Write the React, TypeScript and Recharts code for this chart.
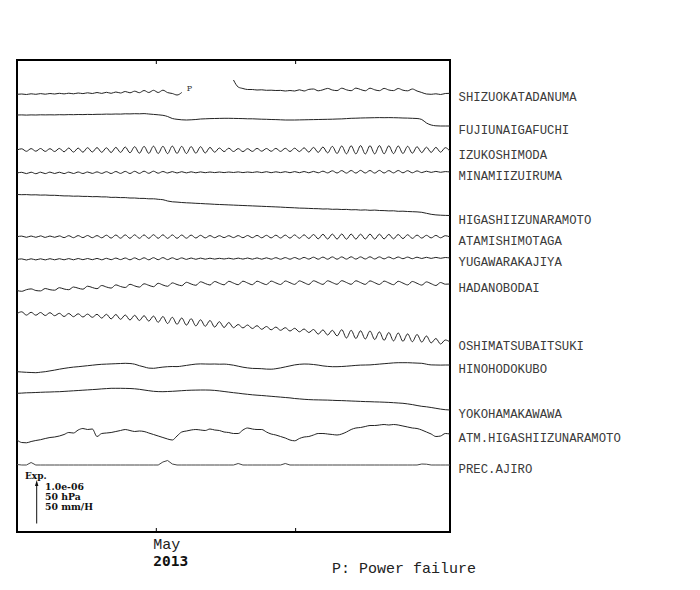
import React from 'react';
import { LineChart, Line, XAxis, YAxis, ReferenceArea } from 'recharts';

// station names, top to bottom
const stations = [
  'SHIZUOKATADANUMA', 'FUJIUNAIGAFUCHI', 'IZUKOSHIMODA', 'MINAMIIZUIRUMA',
  'HIGASHIIZUNARAMOTO', 'ATAMISHIMOTAGA', 'YUGAWARAKAJIYA', 'HADANOBODAI',
  'OSHIMATSUBAITSUKI', 'HINOHODOKUBO', 'YOKOHAMAKAWAWA', 'ATM.HIGASHIIZUNARAMOTO',
  'PREC.AJIRO',
];

// trace offsets (chart units, 1 unit = 1/40 of the scale bar)
const levels = [438, 417, 382, 359, 337.5, 295.3, 272.5, 241.5, 218.5, 160.3, 138.7, 92, 67];

// x axis: days since start, ticks at May 1 / May 16
const tickDays = [14.8, 29.6];
const tickLabels = ['May', ''];

// readings every 12 hours (93 samples), deviation from the trace offset
const shizuokaTadanuma: (number | null)[] = [
  -0.3, 0, -0.5, 0.2, -0.3, 0.4, -0.2, 0.5, 0, 0.7,
  0.1, 0.8, 0.2, 1, 0.4, 1.2, 0.5, 1.5, 0.6, 1.7,
  0.7, 2, 1, 2.5, 1.2, 2.8, 1.3, 3.5, 1.5, 3.7,
  1.5, 3.8, 1.4, 0.5, -1, 1.5, null, null, null, null,
  null, null, null, null, null, null, 14, 7, 5.5, 4.5,
  4.5, 4, 4.2, 3.7, 3.8, 3.5, 3.6, 3, 3.5, 3,
  4.2, 3, 4.6, 5, 3.2, 4.2, 5.6, 4, 3.4, 5.8,
  4.2, 3.3, 5.9, 4.5, 3.2, 5.8, 4.2, 3.3, 5.6, 4,
  3.4, 5.5, 3.8, 3.2, 5, 3, 1.5, 0, -0.3, 0.2,
  -0.5, 0.5, 0.7,
];
const fujiunaigafuchi = [
  0, 0.1, -0.1, 0.1, 0, 0.2, 0.1, 0.2, 0.1, 0.3,
  0.2, 0.4, 0.3, 0.5, 0.4, 0.6, 0.5, 0.7, 0.7, 0.9,
  0.8, 1, 0.9, 1.2, 1.1, 1.3, 1.2, 1.4, 1, 0.6,
  0.2, -0.3, -1.5, -3.5, -4.3, -4.8, -5, -4.8, -4.5, -4,
  -3.8, -3.6, -3.5, -3.4, -3.3, -3.3, -3.4, -3.5, -3.6, -3.8,
  -3.8, -4, -4.2, -4.3, -4.5, -4.6, -4.8, -5, -5, -5,
  -4.9, -4.8, -4.7, -4.6, -4.5, -4.4, -4.3, -4.2, -4, -3.9,
  -3.6, -3.3, -3.2, -3, -2.9, -2.8, -2.7, -2.6, -2.7, -2.6,
  -2.7, -2.8, -3, -3.1, -3.3, -3.5, -4.5, -8, -10, -10.8,
  -11, -11, -11,
];
const izukoshimoda = [
  0, 1.2, -1.3, 1.4, -1.2, 1.5, -1.4, 1.3, -1.5, 1.6,
  -1.8, 2, -2.1, 1.9, -2.2, 2.3, -2, 2.4, -2.3, 2.2,
  -2.5, 2.6, -2.4, 3, -2.8, 3.3, -3.2, 3.6, -3.4, 3.8,
  -3.5, 3.7, -3.6, 3.9, -3.4, 3.6, -3.5, 3.4, -3.2, 3.3,
  -3, 2.6, -2.2, 2, -1.6, 1.8, -1.5, 1.4, -1.6, 1.3,
  -1.4, 1.6, -1.2, 1.5, -1.3, 1.6, -1.4, 1.7, -1.5, 1.8,
  -1.6, 2.2, -2.1, 2.6, -2.4, 3, -2.9, 3.6, -3.5, 4,
  -3.8, 4.2, -3.9, 4.4, -4, 4.3, -3.9, 4.4, -3.8, 4.2,
  -3.6, 4, -3.5, 3.7, -3.2, 3.3, -2.6, 2.8, -2.4, 2.6,
  -2.2, 2.3, -1.2,
];
const minamiizuiruma = [
  0, 0.7, -0.6, 0.8, -0.7, 0.8, -0.6, 0.9, -0.5, 0.8,
  -0.6, 0.9, -0.5, 1, -0.5, 1, -0.4, 1.1, -0.4, 1.3,
  -0.5, 1.5, -0.4, 1.6, -0.5, 1.7, -0.4, 1.8, -0.3, 1.8,
  -0.2, 1.5, 0, 1.4, 0, 1.3, 0.1, 1.2, 0.2, 1.1,
  0.3, 1, 0.4, 1, 0.4, 1, 0.5, 1.1, 0.4, 1,
  0.5, 1.2, 0.4, 1.3, 0.3, 1.2, 0.4, 1.3, 0.3, 1.4,
  0.3, 1.5, 0.2, 1.6, 0.2, 1.8, 0.1, 2.2, 0, 2.4,
  -0.1, 2.5, -0.1, 2.6, 0, 2.5, -0.1, 2.6, 0, 2.4,
  0.1, 2.5, 0.2, 2.3, 0.2, 2.1, 0.4, 1.8, 0.6, 1.6,
  0.7, 1.4, 1,
];
const higashiizunaramoto = [
  0, -0.2, -0.1, -0.4, -0.3, -0.6, -0.5, -0.8, -0.8, -1.1,
  -1.4, -1.4, -1.7, -1.6, -1.9, -1.9, -2.2, -2.1, -2.4, -2.4,
  -2.9, -2.8, -3.1, -3.1, -3.5, -3.5, -3.9, -3.9, -4.3, -4.3,
  -4.8, -5.2, -6.5, -7.3, -7.6, -8, -8.3, -8.5, -8.8, -9,
  -9.3, -9.5, -9.8, -10, -10.2, -10.4, -10.6, -10.8, -11, -11.2,
  -11.4, -11.6, -11.8, -12, -12.2, -12.4, -12.6, -12.9, -13.1, -13.3,
  -13.6, -13.7, -13.9, -14.1, -14.2, -14.5, -14.4, -14.8, -14.7, -15,
  -14.9, -15.3, -15.2, -15.6, -15.4, -15.8, -15.6, -16, -16.1, -16.4,
  -16.3, -16.8, -16.7, -17, -17.2, -17.4, -17.8, -18.8, -19.8, -20.4,
  -20.7, -20.9, -21,
];
const atamishimotaga = [
  0, 0.6, -0.6, 0.7, -0.6, 0.8, -0.7, 0.7, -0.6, 0.8,
  -0.9, 1, -1, 1.1, -0.9, 1.2, -1, 1.1, -1.1, 1.5,
  -1.4, 1.7, -1.5, 1.8, -1.6, 1.9, -1.6, 1.8, -1.7, 2,
  -1.6, 1.9, -1.7, 1.8, -1.6, 1.7, -1.5, 1.6, -1.3, 1.4,
  -1.2, 1.1, -1, 1, -0.9, 1, -0.9, 1.1, -1, 1.2,
  -1, 1.3, -1.1, 1.4, -1.2, 1.5, -1.3, 1.6, -1.4, 1.8,
  -1.6, 1.9, -1.8, 2.2, -2.1, 2.4, -2.3, 2.6, -2.4, 2.7,
  -2.5, 2.6, -2.4, 2.5, -2.3, 2.6, -2.4, 2.5, -2.2, 2.3,
  -2.1, 2.2, -1.9, 2, -1.7, 1.6, -1.4, 1.4, -1.2, 1.3,
  -1.1, 1, -0.3,
];
const yugawarakajiya = [
  0, 0.6, -0.5, 0.7, -0.4, 0.7, -0.4, 0.8, -0.3, 0.8,
  -0.3, 0.9, -0.3, 1, -0.2, 1, -0.2, 1.1, -0.3, 1.2,
  -0.2, 1.4, -0.1, 1.5, -0.3, 1.6, -0.2, 1.7, -0.3, 1.8,
  -0.2, 1.9, -0.1, 1.7, 0, 1.6, 0.1, 1.5, 0.2, 1.4,
  0.3, 1.3, 0.4, 1.2, 0.5, 1.3, 0.4, 1.4, 0.4, 1.5,
  0.3, 1.6, 0.3, 1.7, 0.3, 1.8, 0.3, 1.9, 0.3, 2,
  0.3, 2.1, 0.4, 2.3, 0.3, 2.4, 0.3, 2.6, 0.3, 2.6,
  0.4, 2.7, 0.4, 2.6, 0.5, 2.7, 0.5, 2.6, 0.6, 2.5,
  0.7, 2.5, 0.8, 2.4, 0.8, 2.3, 1, 2.2, 1.1, 2.1,
  1.2, 2, 1.5,
];
const hadanobodai = [
  0, -0.8, 0.8, 1.6, 0, -0.4, 2, 0.8, 0.3, 2.8,
  1.5, 0.8, 3.5, 2.3, 1.3, 4.3, 3, 1.8, 5, 3.5,
  2.4, 5.6, 4, 3, 6.2, 4.6, 3.4, 6.7, 5.2, 3.8,
  7.2, 5.5, 4.2, 7.6, 6, 4.8, 8.2, 6.5, 5.2, 8.7,
  7, 5.5, 9, 7.2, 5.7, 9.2, 7.4, 5.8, 9.3, 7.5,
  5.8, 9.3, 7.5, 5.9, 9.4, 7.6, 6, 9.5, 7.8, 6.1,
  9.6, 7.8, 6, 9.7, 7.9, 6.1, 9.7, 7.9, 6.2, 9.8,
  8, 6.2, 9.7, 7.9, 6.1, 9.6, 7.8, 6, 9.4, 7.6,
  5.8, 9.2, 7.4, 5.6, 9, 7.2, 5.4, 8.6, 6.8, 5,
  8, 6.3, 6.5,
];
const oshimatsubaitsuki = [
  0, 1.7, -1.6, 1.2, -1.7, 1, -2, 0.8, -2.2, 0.2,
  -3, 0, -3.2, -0.3, -3.5, -0.6, -3.8, -0.8, -4.6, -0.8,
  -5.4, -1, -5.8, -1.5, -6.5, -1.8, -7, -2.2, -7.6, -2.6,
  -8.8, -3, -10, -3.8, -10.8, -4.5, -11.6, -5.2, -12.4, -6.3,
  -12.8, -7, -13.6, -8.2, -14, -9, -14.2, -11, -14.4, -11.5,
  -15, -12.2, -15.8, -13, -16.3, -13.6, -16.8, -14.2, -17.5, -14.8,
  -18.3, -15.5, -19, -16, -20.6, -16.4, -21.5, -16.8, -22.4, -16.2,
  -24.5, -16.8, -25, -17.3, -25.5, -17.5, -26, -18.4, -26.8, -19,
  -27.4, -19.5, -27.8, -20.4, -28.2, -21, -28.6, -22.5, -29.4, -25,
  -30.5, -26.5, -28.5,
];
const hinohodokubo = [
  0, -0.3, -0.6, -0.8, -1, -0.5, 0, 0.8, 1.6, 2.5,
  3.3, 4, 4.6, 5, 5.5, 6, 6.5, 7, 7.4, 7.6,
  7.8, 8, 8.2, 8.4, 8.2, 7.5, 6, 4.8, 3.6, 3.4,
  4, 4.6, 5, 5.2, 5.1, 5.6, 6.3, 7, 7.6, 7.8,
  7.7, 7.6, 7.7, 7.5, 7.6, 7.2, 6.5, 5.5, 4.5, 3.8,
  3.3, 3.2, 3, 2.6, 2.5, 3, 3.8, 4.8, 5.8, 6.8,
  7.4, 7.7, 7.6, 7.2, 6.6, 5.8, 5.3, 5, 5, 5.2,
  5.5, 5.9, 6.3, 6.6, 6.7, 6.8, 7.2, 7.6, 8, 8.4,
  8.8, 9, 9, 9, 8.8, 8.6, 8.4, 7.5, 6.8, 6.7,
  6.6, 6.7, 6.7,
];
const yokohamakawawa = [
  0, 0.2, 0.5, 0.6, 0.8, 1, 1.2, 1.3, 1.5, 1.6,
  1.9, 2.2, 2.5, 2.8, 3.1, 3.4, 3.7, 4, 4.4, 4.7,
  5, 5, 5, 4.9, 4.8, 4.5, 4, 3.3, 2.6, 2,
  1.7, 1.6, 1.8, 2, 2.3, 2.6, 2.9, 3.1, 3.2, 3.3,
  3.3, 3.2, 2.9, 2.4, 1.8, 1.2, 0.6, 0.1, -0.5, -1,
  -1.5, -1.9, -2.2, -2.6, -3, -3.4, -3.8, -4.2, -4.6, -5.2,
  -5.6, -6, -6.3, -6.5, -6.6, -6.7, -6.8, -7, -7.2, -7.3,
  -7.5, -7.7, -7.9, -8.1, -8.3, -8.4, -8.6, -8.7, -8.9, -9.1,
  -9.4, -9.7, -10, -10.6, -11.3, -12.2, -13, -13.5, -14.2, -15,
  -15.8, -16.4, -16.7,
];
const atmHigashiizunaramoto = [
  0, -2.5, -2.8, -1.5, -0.5, 0.3, 1.5, 2.5, 3, 4,
  5.5, 7.5, 7, 10, 11.5, 10.5, 11, 3.5, 6.5, 7,
  7.5, 8.5, 9.5, 10.5, 9.5, 8.5, 9, 8.5, 7, 5.5,
  4, 2.5, 1, 0, 4, 8, 9, 10, 10.5, 10,
  9.5, 11, 10, 9.5, 8, 7.5, 6.5, 6.5, 10, 12,
  11, 10.5, 10.5, 8, 6, 5, 3.5, 2, 0, -0.8,
  1.5, 3, 3.5, 5, 6.5, 6.5, 6, 5.5, 5, 6,
  8, 10.5, 12, 12.5, 13.5, 14.5, 14.5, 15, 15.5, 15,
  15.5, 15, 14, 13, 12, 11.5, 10, 8, 6, 3.5,
  4, 6.5, 6,
];
const precAjiro = [
  0.5, 0, 0, 2.5, 0, 0, 0, 0, 0, 0,
  0, 0, 0, 0, 0, 0, 0, 0, 0, 0,
  0, 0, 0, 0, 0, 0, 0, 0, 0, 0,
  0, 3, 4.5, 1, 0, 0, 0, 0, 0, 0,
  0, 0, 0, 0, 0, 0, 0, 1.5, 0, 0,
  0, 0, 0, 0, 0, 0, 0, 1.5, 0, 0,
  0, 0, 0, 0, 0, 0, 0, 0, 0, 0,
  0, 0, 0, 0, 0, 0, 0, 0, 0, 0,
  0, 0, 0, 0, 0, 0, 1, 0.8, 0, 0,
  0, 0, 0,
];

const series = [
  shizuokaTadanuma, fujiunaigafuchi, izukoshimoda, minamiizuiruma,
  higashiizunaramoto, atamishimotaga, yugawarakajiya, hadanobodai,
  oshimatsubaitsuki, hinohodokubo, yokohamakawawa, atmHigashiizunaramoto,
  precAjiro,
];

// 12-hour sampling grid, in days
const halfDays = shizuokaTadanuma.map((_, i) => i * 0.5);
const powerFailureIndex = 35;

const rows = halfDays.map((t, i) => {
  const row: Record<string, number | null> = { t };
  series.forEach((s, k) => {
    const v = s[i];
    row[`s${k}`] = v === null ? null : levels[k] + v;
  });
  return row;
});

const mono = '"Liberation Mono", "DejaVu Sans Mono", monospace';
const serif = '"DejaVu Serif", "Liberation Serif", serif';

const BottomTick = (props: any) => {
  const { x, y, index } = props;
  return (
    <g>
      <line x1={x} x2={x} y1={y - 4} y2={y} stroke="#000" strokeWidth={1} />
      {tickLabels[index] ? (
        <>
          <text x={x - 3} y={y + 16.5} fontFamily={mono} fontSize={15} fill="#222">{tickLabels[index]}</text>
          <text x={x - 3} y={y + 34} fontFamily='"DejaVu Sans Mono", monospace' fontWeight="bold" fontSize={14.5} fill="#111">2013</text>
        </>
      ) : null}
    </g>
  );
};

const TopTick = (props: any) => {
  const { x, y } = props;
  return <line x1={x} x2={x} y1={y} y2={y + 4} stroke="#000" strokeWidth={1} />;
};

const makeDot = (k: number) => (props: any) => {
  const { cx, cy, index } = props;
  const last = series[k].length - 1;
  if (index === last && cy != null) {
    return (
      <text key={`lbl-${k}`} x={cx + 8.5} y={cy + 8} fontFamily={mono} fontSize={12.3} fill="#3a3a3a">
        {stations[k]}
      </text>
    );
  }
  if (k === 0 && index === powerFailureIndex && cy != null) {
    return (
      <text key={`pf-${k}`} x={cx + 5} y={cy - 2} fontFamily={serif} fontSize={8} fill="#333">P</text>
    );
  }
  return <g key={`d-${k}-${index}`} />;
};

const App: React.FC = () => {
  return (
    <div style={{ position: 'absolute', left: 0, top: 0, width: 700, height: 590, background: '#fff' }}>
      <LineChart width={700} height={590} data={rows} margin={{ top: 59, right: 250, bottom: 0, left: 17 }}>
        <XAxis
          dataKey="t"
          type="number"
          domain={[0, 46]}
          ticks={tickDays}
          height={58}
          axisLine={false}
          tickLine={false}
          tickSize={0}
          tickMargin={0}
          tick={<BottomTick />}
          interval={0}
        />
        <XAxis
          xAxisId="top"
          orientation="top"
          dataKey="t"
          type="number"
          domain={[0, 46]}
          ticks={tickDays}
          height={1}
          axisLine={false}
          tickLine={false}
          tickSize={0}
          tickMargin={0}
          tick={<TopTick />}
          interval={0}
        />
        <YAxis type="number" domain={[0, 472]} hide />
        <ReferenceArea x1={0} x2={46} y1={0} y2={472} fill="none" stroke="#000" strokeWidth={2} />
        {series.map((_, k) => (
          <Line
            key={k}
            type={k === 12 ? 'linear' : 'monotone'}
            dataKey={`s${k}`}
            stroke={k === 12 ? '#444' : '#222'}
            strokeWidth={1}
            dot={makeDot(k)}
            activeDot={false}
            isAnimationActive={false}
          />
        ))}
      </LineChart>
      <svg width={700} height={590} style={{ position: 'absolute', left: 0, top: 0, pointerEvents: 'none' }}>
        <text x={25} y={478.5} fontFamily={serif} fontWeight="bold" fontSize={9} fill="#111">Exp.</text>
        <line x1={36.7} x2={36.7} y1={484} y2={523.5} stroke="#111" strokeWidth={1} />
        <polygon points="36.7,480 35,486 38.4,486" fill="#111" />
        <text x={45} y={490} fontFamily={serif} fontWeight="bold" fontSize={9.3} fill="#111">1.0e-06</text>
        <text x={45} y={499.5} fontFamily={serif} fontWeight="bold" fontSize={9.3} fill="#111">50 hPa</text>
        <text x={45} y={509.5} fontFamily={serif} fontWeight="bold" fontSize={9.3} fill="#111">50 mm/H</text>
        <text x={332} y={573} fontFamily={mono} fontSize={15} fill="#222">P: Power failure</text>
      </svg>
    </div>
  );
};

export default App;
